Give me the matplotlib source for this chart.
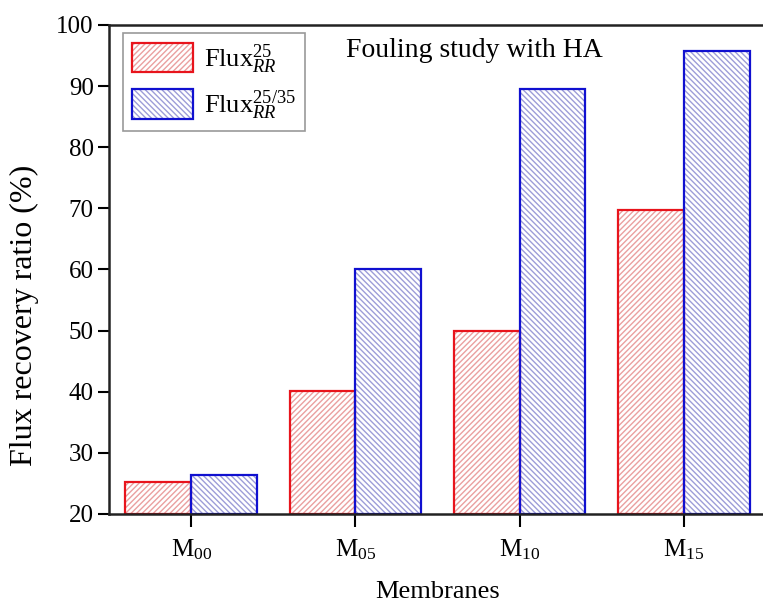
import numpy as np
import matplotlib
matplotlib.use("Agg")
import matplotlib.pyplot as plt
from matplotlib.patches import Rectangle

plt.rcParams['font.family'] = ['Liberation Serif', 'DejaVu Serif']
plt.rcParams['mathtext.fontset'] = 'custom'
plt.rcParams['mathtext.rm'] = 'Liberation Serif'
plt.rcParams['mathtext.it'] = 'Liberation Serif:italic'
plt.rcParams['hatch.linewidth'] = 1.0

membranes = [r'M$_{\mathrm{00}}$', r'M$_{\mathrm{05}}$', r'M$_{\mathrm{10}}$', r'M$_{\mathrm{15}}$']
flux_25 = [25.2, 40.2, 50.0, 69.7]
flux_25_35 = [26.4, 60.1, 89.5, 95.7]
labels = [r'Flux$_{RR}^{\mathit{25}}$', r'Flux$_{RR}^{\mathit{25/35}}$']

red_edge, red_hatch = '#e8141c', '#eaa0a0'
blue_edge, blue_hatch = '#1010d0', '#9d9dd8'

fig = plt.figure(figsize=(7.63, 6.02), dpi=100)
ax = fig.add_axes([0.1429, 0.1462, 0.861, 0.8123])

x = np.arange(len(membranes))
w = 0.4
base = 20

# hatch layer (light) + outline layer (dark)
ax.bar(x - w / 2, np.array(flux_25) - base, w, bottom=base, color='none',
       edgecolor=red_hatch, linewidth=0, hatch='//////')
ax.bar(x + w / 2, np.array(flux_25_35) - base, w, bottom=base, color='none',
       edgecolor=blue_hatch, linewidth=0, hatch='\\\\\\\\\\\\')
ax.bar(x - w / 2, np.array(flux_25) - base, w, bottom=base, fill=False,
       edgecolor=red_edge, linewidth=1.6)
ax.bar(x + w / 2, np.array(flux_25_35) - base, w, bottom=base, fill=False,
       edgecolor=blue_edge, linewidth=1.6)

# legend handles: light hatch under a dark outline
h1 = (Rectangle((0, 0), 1, 1, facecolor='none', edgecolor=red_hatch, hatch='//////', linewidth=0),
      Rectangle((0, 0), 1, 1, fill=False, edgecolor=red_edge, linewidth=1.6))
h2 = (Rectangle((0, 0), 1, 1, facecolor='none', edgecolor=blue_hatch, hatch='\\\\\\\\\\\\', linewidth=0),
      Rectangle((0, 0), 1, 1, fill=False, edgecolor=blue_edge, linewidth=1.6))
leg = ax.legend([h1, h2], labels, loc='upper left', bbox_to_anchor=(0.0213, 0.9836),
                borderaxespad=0, fontsize=19, handlelength=2.3, handleheight=1.35,
                handletextpad=0.4, borderpad=0.35, labelspacing=0.5, fancybox=False,
                edgecolor='#999999', framealpha=1)
leg.get_frame().set_linewidth(1.2)

ax.text(0.5556, 0.947, 'Fouling study with HA', transform=ax.transAxes,
        ha='center', va='center', fontsize=20)

ax.set_xlim(-0.5, 3.5)
ax.set_ylim(20, 100)
ax.set_yticks(np.arange(20, 101, 10))
ax.set_xticks(x)
ax.set_xticklabels(membranes, fontsize=18)
ax.tick_params(axis='y', labelsize=18, direction='out', length=8, width=1.5, pad=3)
ax.tick_params(axis='x', direction='out', length=9, width=1.5, pad=8)
ax.set_ylabel('Flux recovery ratio (%)', fontsize=23)
ax.yaxis.set_label_coords(-0.107, 0.407)
ax.set_xlabel('Membranes', fontsize=19)
ax.xaxis.set_label_coords(0.5, -0.137)

for s in ['left', 'bottom', 'top']:
    ax.spines[s].set_linewidth(1.8)
    ax.spines[s].set_color('#222222')
ax.spines['right'].set_visible(False)

fig.savefig('out.png', dpi=100)
